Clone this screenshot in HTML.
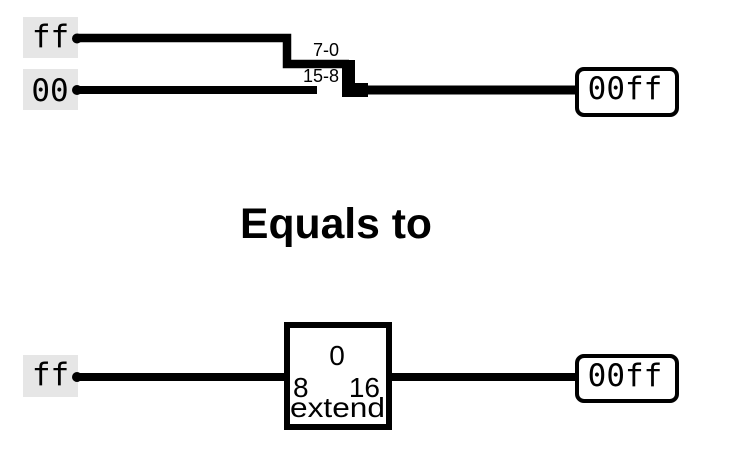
<!DOCTYPE html>
<html>
<head>
<meta charset="utf-8">
<style>
  html, body { margin: 0; padding: 0; background: #ffffff; }
  body { width: 730px; height: 464px; overflow: hidden; }
  svg { display: block; }
  .mono { font-family: "DejaVu Sans Mono", "Liberation Mono", monospace; font-size: 31px; fill: #000; }
  .sans { font-family: "Liberation Sans", Arial, sans-serif; fill: #000; }
</style>
</head>
<body>
<svg width="730" height="464" viewBox="0 0 730 464" xmlns="http://www.w3.org/2000/svg">
  <!-- ===== Top diagram ===== -->
  <rect x="23" y="17" width="55" height="41" fill="#e6e6e6"/>
  <text x="50.5" y="47" text-anchor="middle" class="mono">ff</text>
  <rect x="23" y="69" width="55" height="41" fill="#e6e6e6"/>
  <text x="50" y="101" text-anchor="middle" class="mono">00</text>

  <!-- ff wire -->
  <polyline points="77,38 287,38 287,64 349,64" fill="none" stroke="#000" stroke-width="8.5" stroke-linejoin="miter"/>
  <circle cx="77" cy="38.5" r="5" fill="#000"/>
  <!-- 00 wire -->
  <line x1="77" y1="90" x2="317" y2="90" stroke="#000" stroke-width="8"/>
  <circle cx="77" cy="90" r="5" fill="#000"/>

  <!-- splitter bar -->
  <rect x="342" y="60" width="13" height="37" fill="#000"/>
  <rect x="342" y="83" width="26" height="14" fill="#000"/>
  <!-- output wire -->
  <line x1="366" y1="90" x2="578" y2="90" stroke="#000" stroke-width="9"/>

  <!-- labels -->
  <text x="339" y="56" text-anchor="end" class="sans" font-size="18">7-0</text>
  <text x="339" y="82" text-anchor="end" class="sans" font-size="18">15-8</text>

  <!-- output box -->
  <rect x="577" y="69" width="100" height="46" rx="7" ry="7" fill="#fff" stroke="#000" stroke-width="4"/>
  <text x="625" y="99" text-anchor="middle" class="mono">00ff</text>

  <!-- ===== Title ===== -->
  <text x="240" y="238" class="sans" font-size="43" font-weight="bold" textLength="192" lengthAdjust="spacingAndGlyphs">Equals to</text>

  <!-- ===== Bottom diagram ===== -->
  <rect x="23" y="355" width="55" height="42" fill="#e6e6e6"/>
  <text x="50.5" y="385" text-anchor="middle" class="mono">ff</text>

  <line x1="77" y1="377" x2="286" y2="377" stroke="#000" stroke-width="8"/>
  <circle cx="77" cy="377" r="5" fill="#000"/>

  <!-- extend box -->
  <rect x="287" y="325" width="102" height="102" fill="#fff" stroke="#000" stroke-width="6"/>
  <circle cx="286" cy="377" r="4" fill="#000"/>
  <circle cx="390" cy="377" r="4" fill="#000"/>
  <text x="337" y="365" text-anchor="middle" class="sans" font-size="28">0</text>
  <text x="293" y="397" class="sans" font-size="28">8</text>
  <text x="380" y="397" text-anchor="end" class="sans" font-size="28">16</text>
  <text x="290" y="417" class="sans" font-size="28" textLength="95" lengthAdjust="spacingAndGlyphs">extend</text>

  <!-- output wire -->
  <line x1="390" y1="377" x2="578" y2="377" stroke="#000" stroke-width="8"/>

  <!-- output box -->
  <rect x="577" y="356" width="100" height="45" rx="7" ry="7" fill="#fff" stroke="#000" stroke-width="4"/>
  <text x="625" y="386" text-anchor="middle" class="mono">00ff</text>
</svg>
</body>
</html>
